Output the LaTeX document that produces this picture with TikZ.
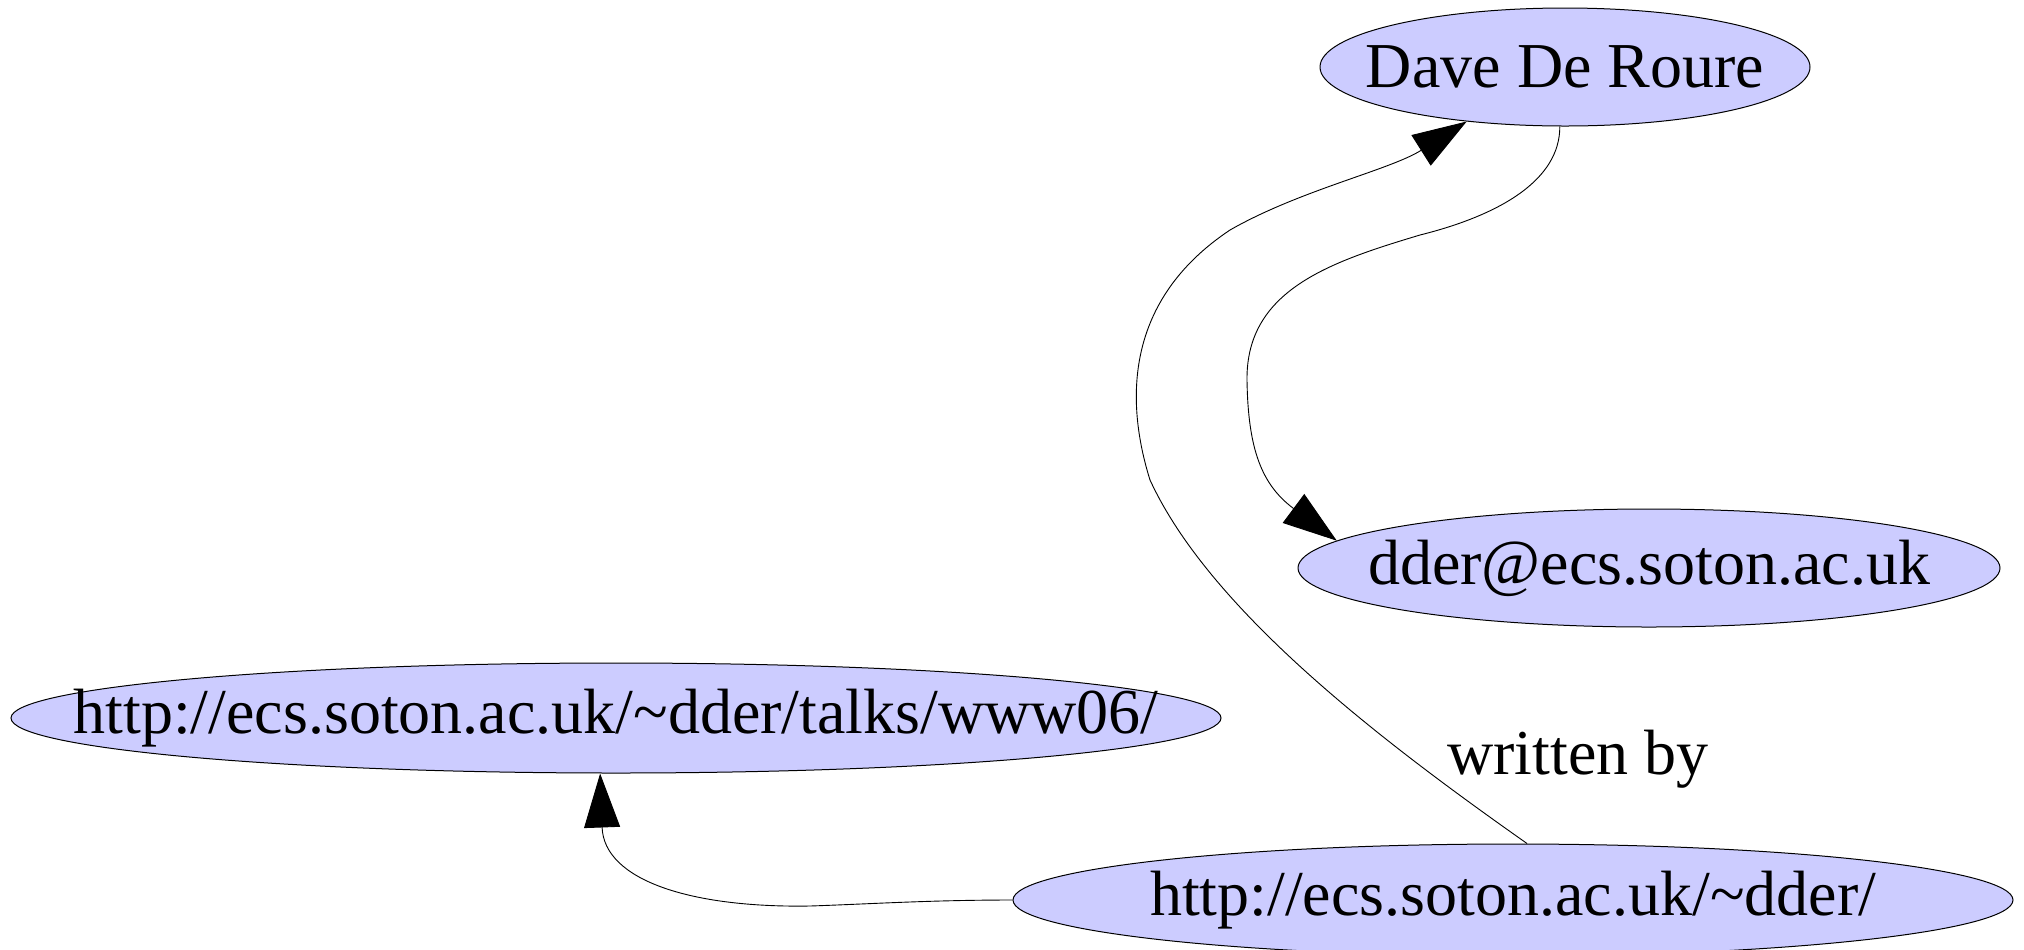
\documentclass[tikz,border=0pt]{standalone}
\usepackage{fontspec}
\setmainfont{Liberation Serif}
\usepackage{xcolor}
\usetikzlibrary{shapes.geometric,
	arrows.meta,
	calc,
	positioning}
\definecolor{lav}{RGB}{204,204,255}
\tikzstyle{res}=[draw, ellipse, fill=lav, line width=0.5pt, inner sep=0,
		font=\fontsize{32}{38}\selectfont]
\tikzstyle{lbl}=[inner sep=0, font=\fontsize{32}{38}\selectfont]
\tikzstyle{edge}=[draw, line width=0.45pt, -{Triangle[length=27pt, width=18pt]}]

\begin{document}
\begin{tikzpicture}[x=0.5pt, y=-0.5pt]
            \useasboundingbox (0,0) rectangle (2024,949);
            \node[res, minimum width=245pt, minimum height=59pt] (dave) at (1565,67) {\makebox[0pt][c]{Dave De Roure}};
            \node[res, minimum width=351pt, minimum height=59pt] (mail) at (1649,568) {\makebox[0pt][c]{dder@ecs.soton.ac.uk}};
            \node[res, minimum width=605pt, minimum height=55pt] (talk) at (616,718) {\makebox[0pt][c]{http://ecs.soton.ac.uk/\char`\~dder/talks/www06/}};
            \node[res, minimum width=500pt, minimum height=56pt] (home) at (1513,900) {\makebox[0pt][c]{http://ecs.soton.ac.uk/\char`\~dder/}};
            \node[lbl] (wby) at (1578,759) {written by};
            \path[edge] (dave.265) .. controls (1560,180) and (1500,215) .. (1420,235)
                .. controls (1330,262) and (1246,290) .. (1247,380)
                .. controls (1248,450) and (1262,485) .. (mail.175);
            \path[edge] (home.76) .. controls (1380,740) and (1210,610) .. (1150,480)
                .. controls (1125,400) and (1125,300) .. (1230,230)
                .. controls (1300,190) and (1390,170) .. (dave.209);
            \path[edge] (home.180) .. controls (930,900) and (870,904) .. (810,906)
                .. controls (690,908) and (604,880) .. (talk.254);
        \end{tikzpicture}
\end{document}
